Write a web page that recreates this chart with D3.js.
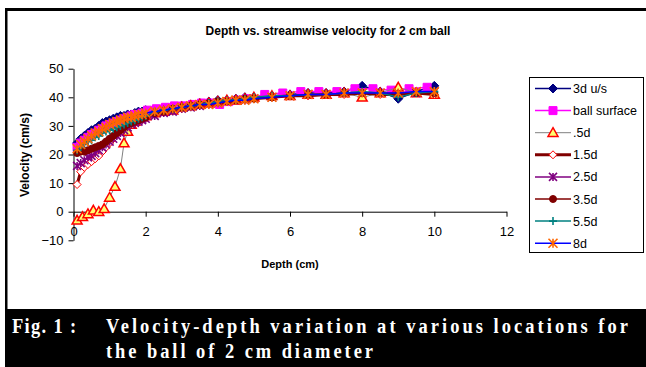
<!DOCTYPE html>
<html>
<head>
<meta charset="utf-8">
<script src="https://cdn.jsdelivr.net/npm/d3@7"></script>
<style>
  body { margin: 0; background: #fff; }
  svg { display: block; }
</style>
</head>
<body>
<svg id="chart" width="646" height="367"></svg>
<script>
// depths (cm)
const depth = [0.1,0.2,0.3,0.4,0.5,0.6,0.7,0.8,0.9,1.0,1.1,1.2,1.3,1.4,1.5,1.6,1.7,1.8,1.9,2.0,
  2.25,2.5,2.75,3.0,3.25,3.5,3.75,4.0,4.25,4.5,4.75,5.0,5.5,6.0,6.5,7.0,7.5,8.0,8.5,9.0,9.5,10.0];
const depthBall = [0.1,0.2,0.3,0.4,0.5,0.6,0.7,0.8,0.9,1.0,1.1,1.2,1.3,1.4,1.5,1.6,1.7,1.8,1.9,
  2.05,2.3,2.55,2.8,3.05,3.3,3.55,3.8,4.05,4.3,4.55,4.8,5.3,5.8,6.3,6.8,7.3,7.8,8.3,8.8,9.3,9.8];
const depthHalf = [0.1,0.25,0.4,0.55,0.7,0.85,1.0,1.15,1.3,1.4,1.5,1.6,1.7,1.8,1.9,2.0,
  2.25,2.5,2.75,3.0,3.25,3.5,3.75,4.0,4.25,4.5,4.75,5.0,5.5,6.0,6.5,7.0,7.5,8.0,8.5,9.0,9.5,10.0];

// velocities (cm/s)
const u3d = [24,25.5,26.5,27.5,28.5,29,30,31,31.5,32,32.5,33,33.5,33.5,34,34,34.5,35,35,35.5,
  35.5,36,36.5,37,37.5,38,38.5,39,39,39.5,40,40,40.5,41,41.5,41.5,42,44,42,39.5,42,44];
const ballSurface = [22.5,24,25,26,27,27.5,28.5,29,30,30.5,31,31.5,32,32.5,33,33.5,34,34,34.5,
  35.5,36,36.5,37,37,37.5,38,38,37.5,38.5,39,39.5,41,41.5,42,42,42,43,43,42.5,43,43.5];
const d05 = [-3,-1.8,-0.8,0.5,0,1,5,8.8,15,24,28,30.5,31.5,32.5,33,33.5,
  34.5,35,35.5,36.5,37,37.5,38,38.5,39,39,39.5,40,40.5,40.5,41,41,41.5,40,41.5,43.5,41.5,41];
const d15 = [9.5,14,15.5,16.5,17.5,18.5,19.5,21,22.5,24,25.5,27,28.5,29.5,30.5,31,31.5,32,32.5,33,
  34,35,35.5,36,37,37.5,38,38,38.5,39,39.5,39.5,40,40.5,40.5,41,41,41.5,41,41,41.5,41];
const d25 = [16,17,18,19,19.5,20.5,21.5,22.5,23.5,24.5,25.5,26.5,27.5,28.5,29.5,30.5,31,31.5,32,32.5,
  33.5,34.5,35,36,36.5,37,37.5,38,38.5,39,39,39.5,40,40.5,41,41,41.5,41.5,41.5,41.5,41.5,42];
const d35 = [20.5,21,21,21.5,22,22.5,23,23.5,24.5,25.5,26.5,27.5,28.5,29.5,30.5,31,31.5,32,32.5,33,
  34.5,35,36,36.5,37,37.5,38,38.5,38.5,39,39.5,39.5,40,40.5,41,41,41.5,41.5,41.5,41,41.5,41.5];
const d55 = [21.5,22.5,23.5,24.5,25,26,26.5,27.5,28,28.5,29,29.5,30,30.5,31,31.5,32,32.5,33,33.5,
  35,35.5,36,36.5,37,37.5,38,38.5,39,39,39.5,40,40.5,40.5,41,41,41.5,42,41.5,40,41.5,42];
const d8 = [22,23.5,24.5,25.5,26.5,27.5,28,29,29.5,30.5,31,31.5,32,32.5,33,33,33.5,34,34,34.5,
  35,35.5,36,36.5,37,37.5,37.5,38,38.5,39,39,39.5,40,40.5,41,41,41.5,41.5,41.5,41.5,42,42];

const seriesNames = ['3d u/s', 'ball surface', '.5d', '1.5d', '2.5d', '3.5d', '5.5d', '8d'];
const xTicks = [0, 2, 4, 6, 8, 10, 12];
const yTicks = [-10, 0, 10, 20, 30, 40, 50];

const chartTitle = 'Depth vs. streamwise velocity for 2 cm ball';
const xTitle = 'Depth (cm)';
const yTitle = 'Velocity (cm/s)';
const captionLabel = 'Fig. 1 :';
const captionLine1 = 'Velocity-depth variation at various locations for';
const captionLine2 = 'the ball of 2 cm diameter';

// styles per series
const series = [
  { x: depth,     y: u3d,         line: '#000080', lw: 1.5, marker: 'diamond',  r: 4.5, fill: '#000080', stroke: '#000080' },
  { x: depthBall, y: ballSurface, line: '#ff00ff', lw: 1.5, marker: 'square',   r: 4,   fill: '#ff00ff', stroke: '#ff00ff' },
  { x: depthHalf, y: d05,         line: '#808080', lw: 1,   marker: 'triangle', r: 5,   fill: '#ffff70', stroke: '#ff0000' },
  { x: depth,     y: d15,         line: '#800000', lw: 3,   marker: 'diamond',  r: 4,   fill: '#ffffff', stroke: '#ff0000' },
  { x: depth,     y: d25,         line: '#800080', lw: 1.5, marker: 'star',     r: 4,   fill: 'none',    stroke: '#800080' },
  { x: depth,     y: d35,         line: '#800000', lw: 1.5, marker: 'circle',   r: 3.5, fill: '#800000', stroke: '#800000' },
  { x: depth,     y: d55,         line: '#008080', lw: 1.5, marker: 'plus',     r: 4,   fill: 'none',    stroke: '#008080' },
  { x: depth,     y: d8,          line: '#0000ff', lw: 1.5, marker: 'star',     r: 4.5, fill: 'none',    stroke: '#ff6600' }
];

function markerPath(type, r) {
  switch (type) {
    case 'diamond': return `M0,${-r}L${r},0L0,${r}L${-r},0Z`;
    case 'square': return `M${-r},${-r}H${r}V${r}H${-r}Z`;
    case 'triangle': return `M0,${-r}L${r},${r * 0.75}L${-r},${r * 0.75}Z`;
    case 'circle': return `M${r},0A${r},${r} 0 1,1 ${-r},0A${r},${r} 0 1,1 ${r},0Z`;
    case 'plus': return `M${-r},0H${r}M0,${-r}V${r}`;
    case 'star': return `M${-r},${-r}L${r},${r}M${-r},${r}L${r},${-r}M0,${-r}V${r}`;
  }
}
function markerWidth(s) {
  if (s.marker === 'star' || s.marker === 'plus') return 1.6;
  return s.marker === 'triangle' ? 1.5 : 1;
}

const svg = d3.select('#chart');
const font = '"Liberation Sans", Arial, sans-serif';

// frame
svg.append('rect').attr('x', 5).attr('y', 8).attr('width', 641).attr('height', 3).attr('fill', '#000');
svg.append('rect').attr('x', 5).attr('y', 8).attr('width', 2.5).attr('height', 301).attr('fill', '#000');
svg.append('rect').attr('x', 5).attr('y', 309).attr('width', 641).attr('height', 58).attr('fill', '#000');

const xScale = d3.scaleLinear().domain([0, 12]).range([73.5, 506.5]);
const yScale = d3.scaleLinear().domain([-10, 50]).range([240.3, 68.7]);

// title
svg.append('text')
  .attr('x', 328).attr('y', 35)
  .attr('text-anchor', 'middle')
  .style('font-family', font).style('font-size', '12px').style('font-weight', 'bold')
  .text(chartTitle);

// axes
const yAxis = svg.append('g')
  .attr('transform', `translate(${xScale(0)},0)`)
  .call(d3.axisLeft(yScale).tickValues(yTicks).tickSize(5).tickSizeOuter(0).tickPadding(5));
const xAxis = svg.append('g')
  .attr('transform', `translate(0,${yScale(0)})`)
  .call(d3.axisBottom(xScale).tickValues(xTicks).tickSize(5).tickSizeOuter(0).tickPadding(10));
[xAxis, yAxis].forEach(a => {
  a.selectAll('text').style('font-family', font).style('font-size', '13px').attr('fill', '#000');
  a.selectAll('line, path').attr('stroke', '#000');
});

svg.append('text')
  .attr('x', 290).attr('y', 268)
  .attr('text-anchor', 'middle')
  .style('font-family', font).style('font-size', '11px').style('font-weight', 'bold')
  .text(xTitle);

svg.append('text')
  .attr('transform', 'translate(29,155) rotate(-90)')
  .attr('text-anchor', 'middle')
  .style('font-family', font).style('font-size', '12px').style('font-weight', 'bold')
  .text(yTitle);

// series
const plot = svg.append('g');
series.forEach(s => {
  const pts = s.x.map((d, i) => [d, s.y[i]]);
  const g = plot.append('g');
  g.append('path')
    .datum(pts)
    .attr('fill', 'none')
    .attr('stroke', s.line)
    .attr('stroke-width', s.lw)
    .attr('d', d3.line().x(d => xScale(d[0])).y(d => yScale(d[1])));
  g.selectAll('.m')
    .data(pts)
    .enter()
    .append('path')
    .attr('transform', d => `translate(${xScale(d[0])},${yScale(d[1])})`)
    .attr('d', markerPath(s.marker, s.r))
    .attr('fill', s.fill)
    .attr('stroke', s.stroke)
    .attr('stroke-width', markerWidth(s));
});

// legend
const legend = svg.append('g');
legend.append('rect')
  .attr('x', 529.5).attr('y', 77.5).attr('width', 114).attr('height', 175)
  .attr('fill', '#fff').attr('stroke', '#000').attr('stroke-width', 1);
seriesNames.forEach((name, i) => {
  const s = series[i];
  const cy = 88.5 + i * 22.1;
  legend.append('line')
    .attr('x1', 535).attr('x2', 571).attr('y1', cy).attr('y2', cy)
    .attr('stroke', s.line).attr('stroke-width', s.lw);
  legend.append('path')
    .attr('transform', `translate(553,${cy})`)
    .attr('d', markerPath(s.marker, s.r))
    .attr('fill', s.fill)
    .attr('stroke', s.stroke)
    .attr('stroke-width', markerWidth(s));
  legend.append('text')
    .attr('x', 573).attr('y', cy + 4.5)
    .style('font-family', font).style('font-size', '12.5px')
    .text(name);
});

// caption (narrow bold serif, wide tracking)
const sx = 0.88;
const cap = svg.append('g')
  .attr('transform', `scale(${sx},1)`)
  .style('font-family', '"Liberation Serif", "Times New Roman", serif')
  .style('font-weight', 'bold').style('font-size', '21px')
  .attr('fill', '#fff');
cap.append('text').attr('x', 12 / sx).attr('y', 333)
  .style('letter-spacing', '1.5px').style('white-space', 'pre')
  .text(captionLabel);
cap.append('text').attr('x', 106 / sx).attr('y', 333)
  .attr('textLength', 522 / sx).attr('lengthAdjust', 'spacing').text(captionLine1);
cap.append('text').attr('x', 106 / sx).attr('y', 358)
  .attr('textLength', 267 / sx).attr('lengthAdjust', 'spacing').text(captionLine2);
</script>
</body>
</html>
